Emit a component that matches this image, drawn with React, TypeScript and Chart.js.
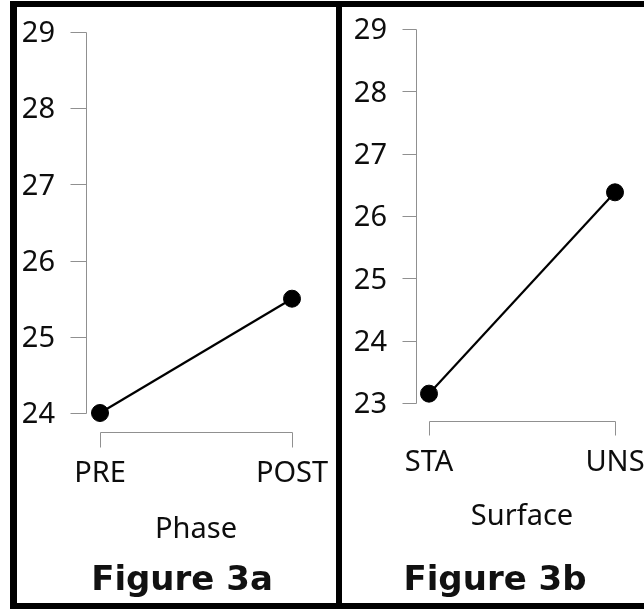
import React, { useEffect, useRef } from "react";
import { Chart, registerables } from "chart.js";

Chart.register(...registerables);

// ---- Data ----
const phaseLabels = ["PRE", "POST"];
const phaseValues = [24.0, 25.5];
const phaseMin = 24;
const phaseMax = 29;

const surfaceLabels = ["STA", "UNS"];
const surfaceValues = [23.15, 26.38];
const surfaceMin = 23;
const surfaceMax = 29;

const FONT = "'Noto Sans', 'DejaVu Sans', sans-serif";
const CAPTION_FONT = "'DejaVu Sans', 'Noto Sans', sans-serif";
const TEXT = "#0d0d0d";
const AXIS = "#909090";
const FONT_SIZE = 29;

// Range-frame axes drawn from the chart's own scales
const rangeFrame = {
  id: "rangeFrame",
  beforeDatasetsDraw(chart: any, _args: any, opts: any) {
    const { ctx, chartArea, scales } = chart;
    const x = scales.x;
    const y = scales.y;
    ctx.save();
    ctx.strokeStyle = opts.color;
    ctx.lineWidth = 1;
    ctx.beginPath();
    // y axis
    const ax = Math.round(chartArea.left - opts.gapX) + 0.5;
    ctx.moveTo(ax, Math.round(y.getPixelForValue(y.min)) + 0.5);
    ctx.lineTo(ax, Math.round(y.getPixelForValue(y.max)) + 0.5);
    y.ticks.forEach((t: any) => {
      const py = Math.round(y.getPixelForValue(t.value)) + 0.5;
      ctx.moveTo(ax - opts.tickY, py);
      ctx.lineTo(ax, py);
    });
    // x axis
    const ay = Math.round(chartArea.bottom + opts.gapY) + 0.5;
    const n = x.getLabels().length;
    const x0 = Math.round(x.getPixelForValue(0)) + 0.5;
    const x1 = Math.round(x.getPixelForValue(n - 1)) + 0.5;
    ctx.moveTo(x0, ay);
    ctx.lineTo(x1, ay);
    for (let i = 0; i < n; i++) {
      const px = Math.round(x.getPixelForValue(i)) + 0.5;
      ctx.moveTo(px, ay);
      ctx.lineTo(px, ay + opts.tickX);
    }
    ctx.stroke();
    ctx.restore();
  },
};

type PanelProps = {
  labels: string[];
  values: number[];
  min: number;
  max: number;
  title: string;
  width: number;
  height: number;
  yWidth: number;
  xHeight: number;
  padTop: number;
  padRight: number;
  yPad: number;
  xPad: number;
  titlePad: number;
  gapX: number;
  gapY: number;
  tickX: number;
  tickY: number;
};

const noScalePadding = (s: any) => {
  s.paddingTop = 0;
  s.paddingBottom = 0;
  s.paddingLeft = 0;
  s.paddingRight = 0;
};

function Panel(p: PanelProps) {
  const ref = useRef<HTMLCanvasElement | null>(null);
  useEffect(() => {
    if (!ref.current) return;
    const chart = new Chart(ref.current, {
      type: "line",
      data: {
        labels: p.labels,
        datasets: [
          {
            data: p.values,
            borderColor: "#000",
            borderWidth: 2.2,
            backgroundColor: "#000",
            pointRadius: 8.5,
            pointBackgroundColor: "#000",
            pointBorderColor: "#000",
            pointBorderWidth: 1,
            tension: 0,
            clip: false,
          } as any,
        ],
      },
      plugins: [rangeFrame as any],
      options: {
        responsive: false,
        animation: false,
        devicePixelRatio: 1,
        layout: {
          autoPadding: false,
          padding: { left: 0, top: p.padTop, right: p.padRight, bottom: 0 },
        },
        plugins: {
          legend: { display: false },
          tooltip: { enabled: false },
          title: { display: false },
          rangeFrame: {
            color: AXIS,
            gapX: p.gapX,
            gapY: p.gapY,
            tickX: p.tickX,
            tickY: p.tickY,
          },
        } as any,
        scales: {
          x: {
            type: "category",
            offset: false,
            grid: { display: false, drawTicks: false },
            border: { display: false },
            ticks: {
              padding: p.xPad,
              maxRotation: 0,
              autoSkip: false,
              color: TEXT,
              font: { family: FONT, size: FONT_SIZE },
            },
            title: {
              display: true,
              text: p.title,
              color: TEXT,
              font: { family: FONT, size: FONT_SIZE },
              padding: { top: 0, bottom: p.titlePad },
            },
            afterFit: (s: any) => {
              s.height = p.xHeight;
              noScalePadding(s);
            },
          },
          y: {
            type: "linear",
            min: p.min,
            max: p.max,
            grid: { display: false, drawTicks: false },
            border: { display: false },
            ticks: {
              stepSize: 1,
              padding: p.yPad,
              labelOffset: 2,
              color: TEXT,
              font: { family: FONT, size: FONT_SIZE },
            },
            afterFit: (s: any) => {
              s.width = p.yWidth;
              noScalePadding(s);
            },
          },
        },
      },
    });
    return () => chart.destroy();
  }, []);
  return (
    <canvas
      ref={ref}
      width={p.width}
      height={p.height}
      style={{ width: p.width, height: p.height, display: "block" }}
    />
  );
}

const bar = (left: number, top: number, width: number, height: number) => (
  <div style={{ position: "absolute", left, top, width, height, background: "#000" }} />
);

const caption = (text: string, center: number) => (
  <div
    style={{
      position: "absolute",
      left: center - 150,
      width: 300,
      top: 561,
      textAlign: "center",
      fontFamily: CAPTION_FONT,
      fontWeight: "bold",
      fontSize: 34,
      lineHeight: "35px",
      color: "#111",
      whiteSpace: "nowrap",
    }}
  >
    {text}
  </div>
);

export default function App() {
  return (
    <div
      style={{
        position: "fixed",
        left: 0,
        top: 0,
        width: 644,
        height: 609,
        background: "#fff",
        overflow: "hidden",
      }}
    >
      <div style={{ position: "absolute", left: 0, top: 0 }}>
        <Panel
          labels={phaseLabels}
          values={phaseValues}
          min={phaseMin}
          max={phaseMax}
          title="Phase"
          width={336}
          height={609}
          yWidth={100}
          xHeight={196}
          padTop={32}
          padRight={44}
          yPad={45}
          xPad={43}
          titlePad={62}
          gapX={14}
          gapY={19}
          tickX={15}
          tickY={16}
        />
      </div>
      <div style={{ position: "absolute", left: 342, top: 0 }}>
        <Panel
          labels={surfaceLabels}
          values={surfaceValues}
          min={surfaceMin}
          max={surfaceMax}
          title="Surface"
          width={302}
          height={609}
          yWidth={87}
          xHeight={206}
          padTop={29}
          padRight={29}
          yPad={42}
          xPad={42}
          titlePad={75}
          gapX={13}
          gapY={18}
          tickX={14}
          tickY={14}
        />
      </div>
      {caption("Figure 3a", 182)}
      {caption("Figure 3b", 495)}
      {bar(10, 1, 634, 6)}
      {bar(10, 1, 7, 608)}
      {bar(336, 1, 6, 608)}
      {bar(10, 603, 634, 6)}
    </div>
  );
}
